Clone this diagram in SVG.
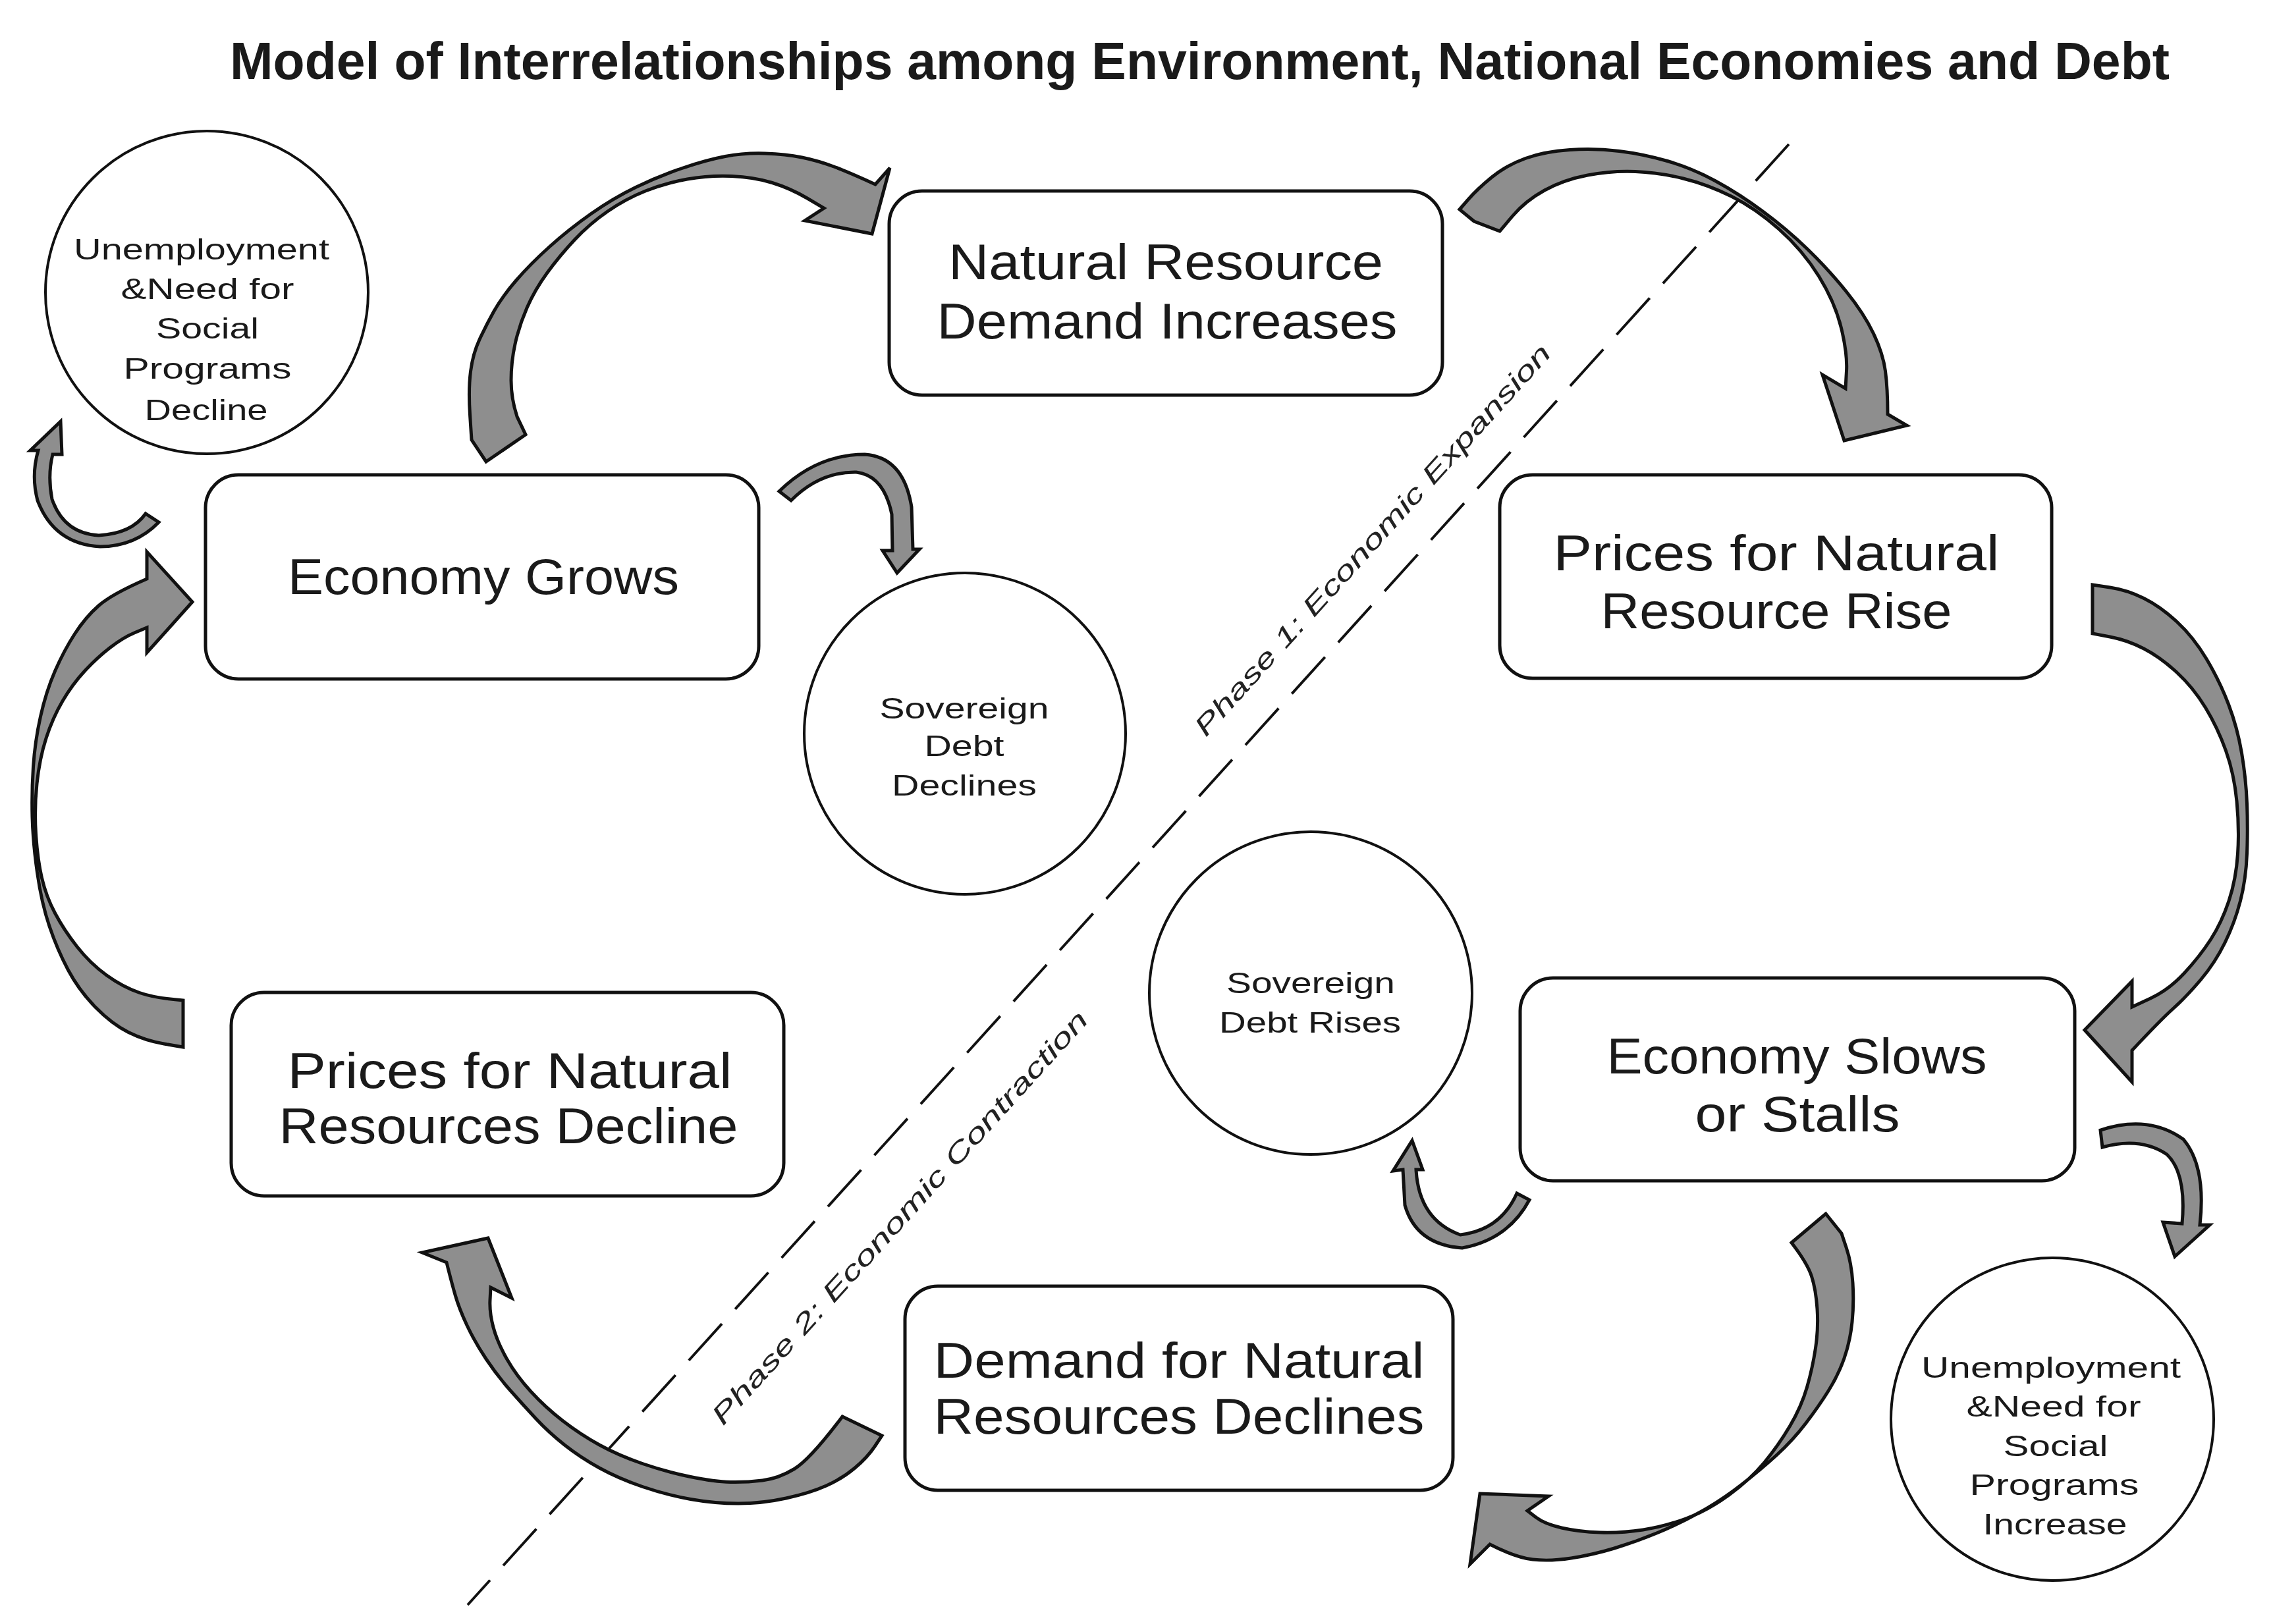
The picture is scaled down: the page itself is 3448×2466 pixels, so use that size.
<svg xmlns="http://www.w3.org/2000/svg" width="3448" height="2466" viewBox="0 0 3448 2466">
<style>
.box{fill:#fff;stroke:#111;stroke-width:5}
.cir{fill:#fff;stroke:#111;stroke-width:4}
.t{font-family:"Liberation Sans",Arial,sans-serif;fill:#1a1a1a;text-anchor:middle}
.tb{font-size:76px}
.tc{font-size:45px}
.title{font-family:"Liberation Sans",Arial,sans-serif;font-weight:bold;font-size:80px;fill:#1a1a1a}
.arr{fill:#8e8e8e;stroke:#111;stroke-width:5;stroke-linejoin:miter}
.div{stroke:#111;stroke-width:4;stroke-dasharray:75 30;fill:none}
.ph{font-family:"Liberation Sans",Arial,sans-serif;font-style:italic;font-size:40px;fill:#222;text-anchor:middle}
</style>
<rect width="3448" height="2466" fill="#fff"/>
<text class="title" x="349" y="120" textLength="2945" lengthAdjust="spacingAndGlyphs">Model of Interrelationships among Environment, National Economies and Debt</text>

<g id="divider">
<line class="div" x1="2716" y1="219" x2="710" y2="2437"/>
<text class="ph" transform="translate(2094,829) rotate(-47.9)" textLength="785" lengthAdjust="spacingAndGlyphs">Phase 1: Economic Expansion</text>
<text class="ph" transform="translate(1376,1858) rotate(-47.9)" textLength="830" lengthAdjust="spacingAndGlyphs">Phase 2: Economic Contraction</text>
</g>

<g id="connectors">
<path id="a1" class="arr" d="M716,668 L713.5,629.5 Q711,591 714.5,564 Q718,537 728,515.5 Q738,494 750,472.5 Q762,451 783.5,426 Q805,401 834.5,374.5 Q864,348 897.5,324.5 Q931,301 965,284.5 Q999,268 1035.5,255.5 Q1072,243 1101,237.5 Q1130,232 1161.5,233 Q1193,234 1217.5,239 Q1242,244 1266,253 Q1290,262 1329,280 L1351,255 L1324,355 L1222,335 L1251,316 L1225.5,301 Q1200,286 1172.5,277.5 Q1145,269 1111,267.5 Q1077,266 1043.5,272 Q1010,278 980,290 Q950,302 922.5,321 Q895,340 872.5,364 Q850,388 831,414 Q812,440 800,467.5 Q788,495 782,522.5 Q776,550 776,577.5 Q776,605 785,632.5 L798,660 L738,701 Z"/>
<path id="a2" class="arr" d="M2216,318 L2229.5,302.5 Q2243,287 2265,269 Q2287,251 2316,240.5 Q2345,230 2383.5,227.5 Q2422,225 2458.5,229.5 Q2495,234 2531.5,244.5 Q2568,255 2604,274.5 Q2640,294 2676.5,321 Q2713,348 2744.5,378.5 Q2776,409 2803,442.5 Q2830,476 2844.5,506.5 Q2859,537 2862.5,563.5 Q2866,590 2866,629 L2895,646 L2800,669 L2767,569 L2802,590 L2803.5,563.5 Q2805,537 2795.5,498 Q2786,459 2761.5,419.5 Q2737,380 2701,348 Q2665,316 2628.5,298 Q2592,280 2555.5,271 Q2519,262 2483,260.5 Q2447,259 2410.5,266 Q2374,273 2345,289 Q2316,305 2296.5,328 L2277,351 L2238,336 Z"/>
<path id="a3" class="arr" d="M3177,888 L3203.5,892 Q3230,896 3255,908.5 Q3280,921 3305,944 Q3330,967 3350,1000.5 Q3370,1034 3383.5,1069.5 Q3397,1105 3403.5,1143.5 Q3410,1182 3411.5,1220 Q3413,1258 3411.5,1296.5 Q3410,1335 3401.5,1368 Q3393,1401 3378,1431.5 Q3363,1462 3341.5,1487.5 Q3320,1513 3300,1531 Q3280,1549 3237,1595 L3237,1643 L3165,1564 L3237,1490 L3237,1529 L3265,1516 Q3293,1503 3316.5,1477.5 Q3340,1452 3356.5,1426.5 Q3373,1401 3384,1368 Q3395,1335 3397.5,1296.5 Q3400,1258 3396,1216.5 Q3392,1175 3379.5,1140 Q3367,1105 3348.5,1074.5 Q3330,1044 3305,1021 Q3280,998 3255,985 Q3230,972 3203.5,967 L3177,962 Z"/>
<path id="a4" class="arr" d="M2720,1887 L2772,1843 L2796,1873 L2803.5,1895.5 Q2811,1918 2813,1948 Q2815,1978 2812,2007.5 Q2809,2037 2800,2062.5 Q2791,2088 2776,2112 Q2761,2136 2741.5,2161.5 Q2722,2187 2698,2209 Q2674,2231 2644,2254.5 Q2614,2278 2581.5,2296 Q2549,2314 2516.5,2327.5 Q2484,2341 2451,2351 Q2418,2361 2385.5,2366 Q2353,2371 2327,2368 Q2301,2365 2262,2345 L2232,2375 L2247,2268 L2351,2272 L2319,2294 L2332,2304 Q2345,2314 2371,2320 Q2397,2326 2429.5,2327 Q2462,2328 2494.5,2323 Q2527,2318 2559.5,2306 Q2592,2294 2624.5,2270.5 Q2657,2247 2678.5,2221 Q2700,2195 2717.5,2165.5 Q2735,2136 2743.5,2106.5 Q2752,2077 2756.5,2047 Q2761,2017 2759,1987.5 Q2757,1958 2750.5,1938 Q2744,1918 2720,1887 Z"/>
<path id="a5" class="arr" d="M1279,2151 L1339,2180 L1328,2196.5 Q1317,2213 1298,2229 Q1279,2245 1254.5,2256 Q1230,2267 1193.5,2275 Q1157,2283 1121,2283 Q1085,2283 1048.5,2276.5 Q1012,2270 975.5,2257.5 Q939,2245 910,2229 Q881,2213 857,2194 Q833,2175 813.5,2154 Q794,2133 774.5,2111 Q755,2089 738,2063.5 Q721,2038 709,2012.5 Q697,1987 691,1966 Q685,1945 678,1917 L641,1902 L741,1880 L777,1971 L745,1955 L744,1974 Q743,1993 749,2015.5 Q755,2038 769.5,2063.5 Q784,2089 806,2113 Q828,2137 854.5,2157.5 Q881,2178 910,2194 Q939,2210 975.5,2222.5 Q1012,2235 1048.5,2242.5 Q1085,2250 1109,2250.5 Q1133,2251 1157.5,2248 Q1182,2245 1206,2230.5 Q1230,2216 1279,2151 Z"/>
<path id="a6" class="arr" d="M278,1519 L278,1590 L249,1585 Q220,1580 195,1567.5 Q170,1555 145,1529.5 Q120,1504 103.5,1473 Q87,1442 75,1406.5 Q63,1371 56.5,1325 Q50,1279 49,1241 Q48,1203 50.5,1164.5 Q53,1126 61.5,1088 Q70,1050 83.5,1019 Q97,988 113.5,962.5 Q130,937 150,919.5 Q170,902 223,879 L223,838 L292,914 L223,991 L223,953 L205,960.5 Q187,968 167,983.5 Q147,999 128.5,1019 Q110,1039 95,1064.5 Q80,1090 70,1121 Q60,1152 56,1190 Q52,1228 54.5,1266.5 Q57,1305 63.5,1333 Q70,1361 83.5,1386.5 Q97,1412 117,1437.5 Q137,1463 162,1481 Q187,1499 212,1507.5 Q237,1516 278,1519 Z"/>
<path id="a7" class="arr" d="M1183,746 Q1240,690 1313,690 Q1372,694 1384,770 L1386,834 L1396,834 L1362,870 L1340,836 L1355,836 L1354,781 Q1342,722 1300,717 Q1245,716 1201,760 Z"/>
<path id="a8" class="arr" d="M241,793 Q205,830 152,830 Q82,826 57,760 Q47,722 58,684 L46,684 L92,640 L94,690 L80,690 Q72,722 79,758 Q97,810 150,813 Q200,810 221,780 Z"/>
<path id="a9" class="arr" d="M2322,1822 Q2290,1882 2220,1895 Q2150,1890 2133,1830 L2130,1776 L2115,1778 L2144,1732 L2160,1776 L2150,1776 Q2154,1852 2217,1875 Q2278,1868 2303,1812 Z"/>
<path id="a10" class="arr" d="M3189,1716 Q3262,1692 3315,1730 Q3350,1772 3340,1860 L3355,1860 L3302,1908 L3284,1856 L3313,1858 Q3320,1782 3290,1753 Q3250,1726 3192,1742 Z"/>
</g>

<g id="node-demand-increases">
<rect class="box" x="1350" y="290" width="840" height="310" rx="50"/>
<text class="t tb" x="1770" y="424" textLength="660" lengthAdjust="spacingAndGlyphs">Natural Resource</text>
<text class="t tb" x="1772" y="514" textLength="699" lengthAdjust="spacingAndGlyphs">Demand Increases</text>
</g>
<g id="node-prices-rise">
<rect class="box" x="2277" y="721" width="838" height="309" rx="50"/>
<text class="t tb" x="2697" y="866" textLength="677" lengthAdjust="spacingAndGlyphs">Prices for Natural</text>
<text class="t tb" x="2697" y="954" textLength="533" lengthAdjust="spacingAndGlyphs">Resource Rise</text>
</g>
<g id="node-economy-slows">
<rect class="box" x="2308" y="1485" width="842" height="308" rx="50"/>
<text class="t tb" x="2728" y="1630" textLength="577" lengthAdjust="spacingAndGlyphs">Economy Slows</text>
<text class="t tb" x="2729" y="1718" textLength="311" lengthAdjust="spacingAndGlyphs">or Stalls</text>
</g>
<g id="node-demand-declines">
<rect class="box" x="1374" y="1953" width="832" height="310" rx="50"/>
<text class="t tb" x="1790" y="2092" textLength="745" lengthAdjust="spacingAndGlyphs">Demand for Natural</text>
<text class="t tb" x="1790" y="2177" textLength="745" lengthAdjust="spacingAndGlyphs">Resources Declines</text>
</g>
<g id="node-prices-decline">
<rect class="box" x="351" y="1507" width="839" height="309" rx="50"/>
<text class="t tb" x="774" y="1652" textLength="675" lengthAdjust="spacingAndGlyphs">Prices for Natural</text>
<text class="t tb" x="772" y="1736" textLength="697" lengthAdjust="spacingAndGlyphs">Resources Decline</text>
</g>
<g id="node-economy-grows">
<rect class="box" x="312" y="721" width="840" height="310" rx="50"/>
<text class="t tb" x="734" y="902" textLength="594" lengthAdjust="spacingAndGlyphs">Economy Grows</text>
</g>

<g id="node-unemployment-decline">
<circle class="cir" cx="314" cy="444" r="245"/>
<text class="t tc" x="306" y="394" textLength="388" lengthAdjust="spacingAndGlyphs">Unemployment</text>
<text class="t tc" x="315" y="454" textLength="263" lengthAdjust="spacingAndGlyphs">&amp;Need for</text>
<text class="t tc" x="315" y="514" textLength="156" lengthAdjust="spacingAndGlyphs">Social</text>
<text class="t tc" x="315" y="575" textLength="255" lengthAdjust="spacingAndGlyphs">Programs</text>
<text class="t tc" x="313" y="638" textLength="187" lengthAdjust="spacingAndGlyphs">Decline</text>
</g>
<g id="node-debt-declines">
<circle class="cir" cx="1465" cy="1114" r="244"/>
<text class="t tc" x="1464" y="1091" textLength="257" lengthAdjust="spacingAndGlyphs">Sovereign</text>
<text class="t tc" x="1464" y="1148" textLength="121" lengthAdjust="spacingAndGlyphs">Debt</text>
<text class="t tc" x="1464" y="1208" textLength="220" lengthAdjust="spacingAndGlyphs">Declines</text>
</g>
<g id="node-debt-rises">
<circle class="cir" cx="1990" cy="1508" r="245"/>
<text class="t tc" x="1990" y="1508" textLength="256" lengthAdjust="spacingAndGlyphs">Sovereign</text>
<text class="t tc" x="1989" y="1568" textLength="276" lengthAdjust="spacingAndGlyphs">Debt Rises</text>
</g>
<g id="node-unemployment-increase">
<circle class="cir" cx="3116" cy="2155" r="245"/>
<text class="t tc" x="3114" y="2092" textLength="394" lengthAdjust="spacingAndGlyphs">Unemployment</text>
<text class="t tc" x="3118" y="2151" textLength="265" lengthAdjust="spacingAndGlyphs">&amp;Need for</text>
<text class="t tc" x="3121" y="2211" textLength="159" lengthAdjust="spacingAndGlyphs">Social</text>
<text class="t tc" x="3119" y="2270" textLength="257" lengthAdjust="spacingAndGlyphs">Programs</text>
<text class="t tc" x="3120" y="2330" textLength="219" lengthAdjust="spacingAndGlyphs">Increase</text>
</g>
</svg>
